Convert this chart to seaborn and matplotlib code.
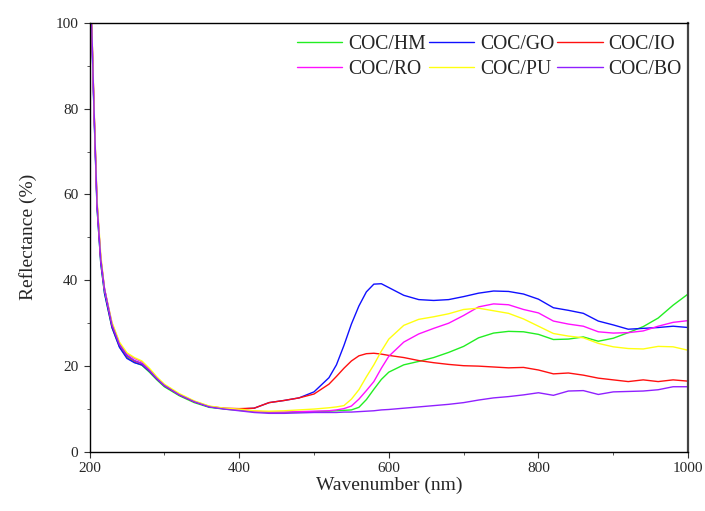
import numpy as np
import pandas as pd
import matplotlib
matplotlib.use("Agg")
import matplotlib.pyplot as plt
import seaborn as sns
from matplotlib.ticker import MultipleLocator

# Wavelength grid (nm)
wavelength = [200, 203, 206, 210, 215, 220, 230, 240, 250, 260, 270, 280, 290, 300,
              320, 340, 360, 380, 400, 420, 440, 460, 480, 500, 520, 530, 540, 550,
              560, 570, 580, 590, 600, 620, 640, 660, 680, 700, 720, 740, 760, 780,
              800, 820, 840, 860, 880, 900, 920, 940, 960, 980, 1000]

# Reflectance (%) for each sample
coc_hm = [106, 98, 79, 57, 44, 37, 29.0, 24.5, 22.0, 20.9, 20.2, 18.6, 16.8, 15.2,
          13.1, 11.5, 10.4, 10.0, 9.7, 9.4, 9.2, 9.2, 9.3, 9.4, 9.5, 9.6, 9.7, 9.8,
          10.4, 12.2, 14.6, 16.9, 18.6, 20.3, 21.1, 22.0, 23.2, 24.6, 26.6, 27.7, 28.1, 28.0,
          27.4, 26.2, 26.3, 26.8, 25.8, 26.5, 27.8, 29.2, 31.2, 34.2, 36.8]
coc_go = [105, 98, 79, 57, 44, 37, 29.0, 24.4, 21.8, 20.8, 20.3, 18.8, 17.0, 15.4,
          13.3, 11.7, 10.5, 10.1, 10.0, 10.2, 11.5, 12.0, 12.6, 14.0, 17.3, 20.3, 24.8, 29.8,
          34.0, 37.3, 39.1, 39.2, 38.3, 36.5, 35.5, 35.3, 35.5, 36.2, 37.0, 37.5, 37.4, 36.8,
          35.6, 33.6, 33.0, 32.3, 30.5, 29.6, 28.6, 28.8, 29.0, 29.3, 29.0]
coc_io = [106, 99, 80, 58, 45, 38, 29.5, 25.0, 22.4, 21.2, 20.6, 19.0, 17.1, 15.5,
          13.3, 11.7, 10.6, 10.2, 10.1, 10.2, 11.5, 12.0, 12.6, 13.5, 15.8, 17.6, 19.5, 21.2,
          22.4, 22.9, 23.0, 22.8, 22.5, 22.0, 21.3, 20.8, 20.4, 20.1, 20.0, 19.8, 19.6, 19.7,
          19.1, 18.2, 18.4, 17.9, 17.2, 16.8, 16.4, 16.8, 16.4, 16.8, 16.5]
coc_ro = [107, 99, 80, 58, 45, 38, 30.0, 25.3, 22.9, 21.8, 21.0, 19.3, 17.3, 15.6,
          13.4, 11.8, 10.6, 10.1, 9.9, 9.5, 9.3, 9.3, 9.4, 9.5, 9.6, 9.8, 10.1, 10.7,
          12.3, 14.3, 16.4, 19.5, 22.3, 25.6, 27.5, 28.8, 30.0, 31.8, 33.8, 34.5, 34.3, 33.2,
          32.4, 30.5, 29.8, 29.3, 28.0, 27.7, 27.8, 28.2, 29.3, 30.2, 30.6]
coc_pu = [108, 100, 81, 59, 46, 38, 30.2, 25.6, 23.1, 22.0, 21.2, 19.5, 17.5, 15.8,
          13.6, 11.9, 10.7, 10.2, 10.0, 9.6, 9.5, 9.6, 9.8, 10.0, 10.3, 10.5, 10.8, 12.3,
          14.5, 17.5, 20.3, 23.5, 26.3, 29.5, 30.9, 31.5, 32.2, 33.2, 33.5, 32.9, 32.3, 31.0,
          29.3, 27.6, 27.0, 26.6, 25.3, 24.5, 24.1, 24.0, 24.6, 24.5, 23.7]
coc_bo = [106, 99, 80, 58, 45, 38, 29.6, 25.0, 22.5, 21.3, 20.6, 19.0, 17.1, 15.5,
          13.3, 11.7, 10.5, 10.0, 9.6, 9.2, 9.0, 9.0, 9.1, 9.2, 9.2, 9.2, 9.3, 9.3,
          9.4, 9.5, 9.6, 9.8, 9.9, 10.2, 10.5, 10.8, 11.1, 11.5, 12.1, 12.6, 12.9, 13.3,
          13.8, 13.2, 14.2, 14.3, 13.4, 14.0, 14.1, 14.2, 14.5, 15.2, 15.2]

series_names = ["COC/HM", "COC/GO", "COC/IO", "COC/RO", "COC/PU", "COC/BO"]
series_values = [coc_hm, coc_go, coc_io, coc_ro, coc_pu, coc_bo]
series_colors = ["#22ee22", "#1010ff", "#ff1010", "#ff10ff", "#ffff10", "#9020ff"]

frames = [pd.DataFrame({"Wavelength": wavelength, "Reflectance": vals, "Sample": name})
          for name, vals in zip(series_names, series_values)]
df = pd.concat(frames, ignore_index=True)

sns.set_theme(style="ticks")
plt.rcParams["font.family"] = ["Liberation Serif", "DejaVu Serif"]

fig = plt.figure(figsize=(7.05, 5.11), dpi=100)
ax = fig.add_axes([0.127, 0.1155, 0.849, 0.8400])

sns.lineplot(data=df, x="Wavelength", y="Reflectance", hue="Sample",
             hue_order=series_names, palette=series_colors, linewidth=1.0,
             ax=ax, legend=False, sort=False)

ax.set_xlim(200, 1000)
ax.set_ylim(0, 100)
ax.xaxis.set_major_locator(MultipleLocator(200))
ax.xaxis.set_minor_locator(MultipleLocator(100))
ax.yaxis.set_major_locator(MultipleLocator(20))
ax.yaxis.set_minor_locator(MultipleLocator(10))
ax.tick_params(which="major", direction="out", length=4.5, width=0.8,
               labelsize=11, color="#333333", top=False, right=False)
ax.tick_params(axis="x", which="major", pad=2.5)
ax.tick_params(which="minor", direction="out", length=2.2, width=0.7,
               color="#555555", top=False, right=False)
ax.set_xlabel("Wavenumber (nm)", fontsize=14)
ax.set_ylabel("Reflectance (%)", fontsize=14)
ax.xaxis.set_label_coords(0.5, -0.058)
ax.yaxis.set_label_coords(-0.088, 0.5)

for side in ["left", "bottom", "top"]:
    ax.spines[side].set_linewidth(1.0)
    ax.spines[side].set_color("black")
ax.spines["right"].set_linewidth(1.6)
ax.spines["right"].set_color("#444444")

# Legend laid out row-wise: HM GO IO / RO PU BO
handles = [plt.Line2D([], [], color=c, lw=1.0) for c in series_colors]
order = [0, 3, 1, 4, 2, 5]
ax.legend([handles[i] for i in order], [series_names[i] for i in order],
          ncol=3, loc="upper right", frameon=False, fontsize=14.2,
          handlelength=2.3, handletextpad=0.3, columnspacing=0.15,
          labelspacing=0.32, borderaxespad=0.0, borderpad=0.4,
          bbox_to_anchor=(1.003, 0.99))

fig.savefig("out.png", dpi=100)
